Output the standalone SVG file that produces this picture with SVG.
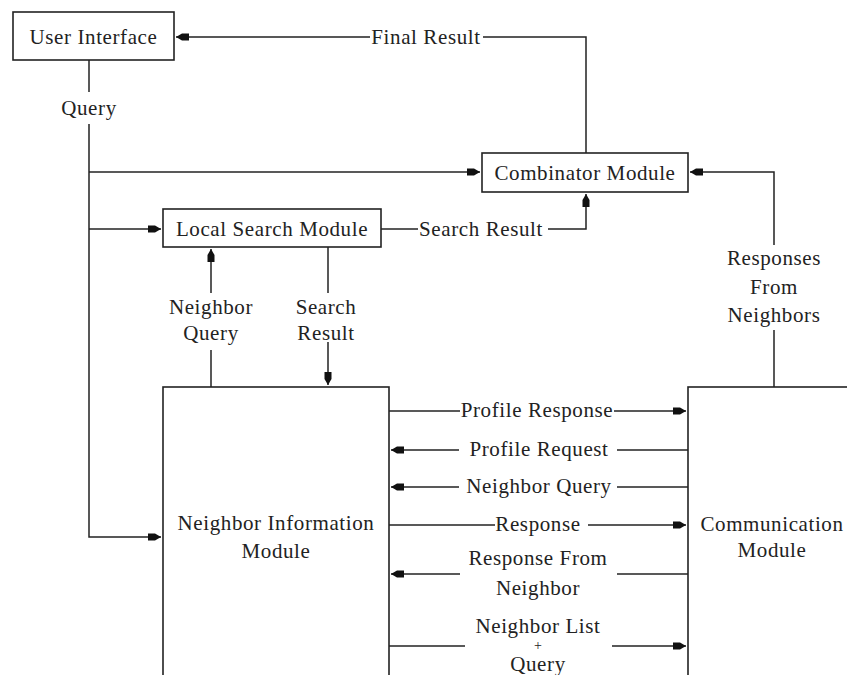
<svg xmlns="http://www.w3.org/2000/svg" width="847" height="675" viewBox="0 0 847 675">
<style>
.box{fill:#fff;stroke:#222;stroke-width:1.6}
.ln{fill:none;stroke:#222;stroke-width:1.5}
text{font-family:"Liberation Serif","Times New Roman",serif;font-size:21px;letter-spacing:0.6px;fill:#222;text-anchor:middle;dominant-baseline:central}
.plus{font-size:14px;letter-spacing:0}
</style>
<defs>
<marker id="ah" markerUnits="userSpaceOnUse" markerWidth="16" markerHeight="10" viewBox="-14 -5 16 10" refX="0" refY="0" orient="auto">
<path d="M-13,-3.5 L-6,-3.5 L0,0 L-6,3.5 L-13,3.5 Z" fill="#111"/>
</marker>
</defs>
<g id="connectors">
<path class="ln" d="M586,153 V37 H483 M370,37 H176" marker-end="url(#ah)"/>
<path class="ln" d="M89,60 V92"/>
<path class="ln" d="M89,124 V537 H161" marker-end="url(#ah)"/>
<path class="ln" d="M89,172 H480" marker-end="url(#ah)"/>
<path class="ln" d="M89,229 H161" marker-end="url(#ah)"/>
<path class="ln" d="M381,229 H418"/>
<path class="ln" d="M548,229 H586 V194" marker-end="url(#ah)"/>
<path class="ln" d="M774,245 V172 H690" marker-end="url(#ah)"/>
<path class="ln" d="M774,330 V387"/>
<path class="ln" d="M211,387 V350"/>
<path class="ln" d="M211,293 V249" marker-end="url(#ah)"/>
<path class="ln" d="M328,247 V293"/>
<path class="ln" d="M328,342 V385" marker-end="url(#ah)"/>
<path class="ln" d="M389,411 H460"/>
<path class="ln" d="M614,411 H686" marker-end="url(#ah)"/>
<path class="ln" d="M688,450 H617"/>
<path class="ln" d="M459,450 H391" marker-end="url(#ah)"/>
<path class="ln" d="M688,487 H617"/>
<path class="ln" d="M459,487 H391" marker-end="url(#ah)"/>
<path class="ln" d="M389,525 H495"/>
<path class="ln" d="M588,525 H686" marker-end="url(#ah)"/>
<path class="ln" d="M688,574 H617"/>
<path class="ln" d="M460,574 H391" marker-end="url(#ah)"/>
<path class="ln" d="M389,646 H465"/>
<path class="ln" d="M612,646 H686" marker-end="url(#ah)"/>
<text x="426" y="37">Final Result</text>
<text x="89" y="108">Query</text>
<text x="481" y="229">Search Result</text>
<text x="211" y="307">Neighbor</text>
<text x="211" y="333">Query</text>
<text x="326" y="307">Search</text>
<text x="326" y="333">Result</text>
<text x="774" y="258">Responses</text>
<text x="774" y="287">From</text>
<text x="774" y="315">Neighbors</text>
<text x="537" y="410">Profile Response</text>
<text x="539" y="449">Profile Request</text>
<text x="539" y="486">Neighbor Query</text>
<text x="538" y="524">Response</text>
<text x="538" y="558">Response From</text>
<text x="538" y="588">Neighbor</text>
<text x="538" y="626">Neighbor List</text>
<text class="plus" x="538" y="645">+</text>
<text x="538" y="664">Query</text>
</g>
<g id="user-interface">
<rect class="box" x="13" y="12" width="161" height="48"/>
<text x="93.5" y="37">User Interface</text>
</g>
<g id="combinator-module">
<rect class="box" x="482" y="153" width="206" height="39"/>
<text x="585" y="173">Combinator Module</text>
</g>
<g id="local-search-module">
<rect class="box" x="163" y="209" width="218" height="38"/>
<text x="272" y="229">Local Search Module</text>
</g>
<g id="neighbor-information-module">
<rect class="box" x="163" y="387" width="226" height="310"/>
<text x="276" y="523">Neighbor Information</text>
<text x="276" y="551">Module</text>
</g>
<g id="communication-module">
<rect class="box" x="688" y="387" width="200" height="310"/>
<text x="772" y="524">Communication</text>
<text x="772" y="550">Module</text>
</g>
</svg>
